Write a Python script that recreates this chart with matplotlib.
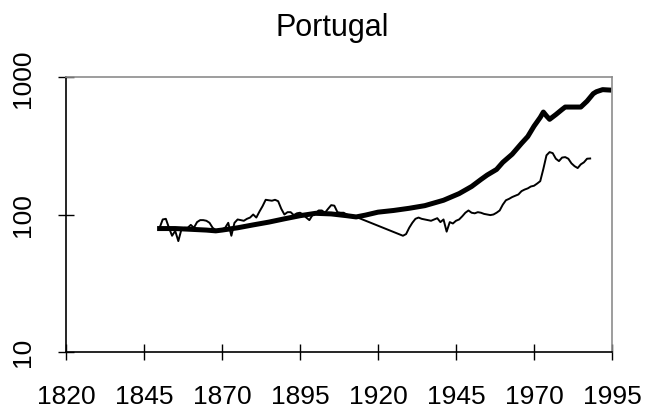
import matplotlib
matplotlib.use("Agg")
import matplotlib.pyplot as plt
from matplotlib.ticker import FixedLocator, NullLocator

plt.rcParams['font.family'] = ['Liberation Sans', 'DejaVu Sans']

# Thick series (trend)
trend_years = [1850, 1855, 1860, 1865, 1868, 1870, 1875, 1880, 1885, 1890, 1895,
               1900, 1905, 1910, 1913, 1916, 1920, 1925, 1930, 1935, 1941, 1946,
               1950, 1953, 1955, 1958, 1960, 1963, 1966, 1968, 1970, 1972, 1973,
               1974, 1975, 1977, 1979, 1980, 1982, 1985, 1987, 1989, 1990, 1992, 1994]
trend_vals = [79, 79, 78, 77, 76, 77, 80, 84, 88, 93, 98,
              102, 101, 98, 96, 99, 104, 107, 111, 116, 127, 142,
              160, 180, 194, 213, 240, 275, 330, 370, 440, 510, 558,
              523, 494, 535, 583, 607, 607, 607, 670, 760, 785, 813, 808]

# Thin series
thin_years = [1850, 1851, 1852, 1853, 1854, 1855, 1856, 1857, 1858, 1859, 1860,
              1861, 1862, 1863, 1864, 1865, 1866, 1867, 1868, 1869, 1870, 1871,
              1872, 1873, 1874, 1875, 1876, 1877, 1878, 1879, 1880, 1881, 1882,
              1883, 1884, 1885, 1886, 1887, 1888, 1889, 1890, 1891, 1892, 1893,
              1894, 1895, 1896, 1897, 1898, 1899, 1900, 1901, 1902, 1903, 1904,
              1905, 1906, 1907, 1908, 1909, 1910, 1911, 1912, 1913,
              1928, 1929, 1930, 1931, 1932, 1933, 1934, 1935, 1936, 1937, 1938,
              1939, 1940, 1941, 1942, 1943, 1944, 1945, 1946, 1947, 1948, 1949,
              1950, 1951, 1952, 1953, 1954, 1955, 1956, 1957, 1958, 1959, 1960,
              1961, 1962, 1963, 1964, 1965, 1966, 1967, 1968, 1969, 1970, 1971,
              1972, 1973, 1974, 1975, 1976, 1977, 1978, 1979, 1980, 1981, 1982,
              1983, 1984, 1985, 1986, 1987, 1988]
thin_vals = [80, 92, 93, 80, 70, 76, 64, 78, 80, 80, 84,
             80, 88, 91, 91, 90, 87, 80, 77, 76, 78, 80,
             87, 70, 87, 92, 91, 90, 93, 95, 100, 95, 105,
             115, 128, 127, 126, 128, 125, 110, 100, 104, 104, 99,
             102, 103, 100, 95, 91, 99, 103, 107, 107, 103, 110,
             117, 116, 104, 103, 103, 100, 98, 97, 96,
             70, 72, 80, 87, 93, 95, 93, 92, 91, 90, 92,
             94, 88, 92, 75, 88, 86, 90, 92, 97, 103, 107,
             103, 102, 104, 103, 101, 100, 99, 100, 103, 107, 118,
             127, 130, 134, 137, 140, 148, 152, 155, 160, 162, 168,
             175, 215, 270, 285, 280, 255, 245, 260, 262, 255, 236,
             225, 218, 232, 240, 255, 256]

x_ticks = [1820, 1845, 1870, 1895, 1920, 1945, 1970, 1995]
y_ticks = [10, 100, 1000]
title = "Portugal"

fig = plt.figure(figsize=(6.45, 4.10), dpi=100)
ax = fig.add_axes([66/645, 1-352.7/410, (612-66)/645, (352.7-78.3)/410])

ax.plot(thin_years, thin_vals, color='black', lw=1.4, solid_joinstyle='round')
ax.plot(trend_years, trend_vals, color='black', lw=3.6, solid_joinstyle='round')

ax.set_yscale('log')
ax.set_xlim(1820, 1995)
ax.set_ylim(10, 1000)
ax.xaxis.set_major_locator(FixedLocator(x_ticks))
ax.set_xticklabels([str(t) for t in x_ticks])
ax.yaxis.set_major_locator(FixedLocator(y_ticks))
ax.yaxis.set_minor_locator(NullLocator())
ax.set_yticklabels([str(t) for t in y_ticks], rotation=90, va='center')

ax.tick_params(axis='both', which='major', direction='inout', length=12,
               width=1.0, labelsize=19, color='black')
ax.tick_params(axis='x', pad=17)
ax.tick_params(axis='y', pad=16)

for s in ['left', 'bottom']:
    ax.spines[s].set_color('black')
    ax.spines[s].set_linewidth(1.2)
for s in ['top', 'right']:
    ax.spines[s].set_color('#8c8c8c')
    ax.spines[s].set_linewidth(1.2)

fig.text(332/645, 1-28/410, title, ha='center', va='center', fontsize=22)

fig.savefig('out.png', dpi=100)
